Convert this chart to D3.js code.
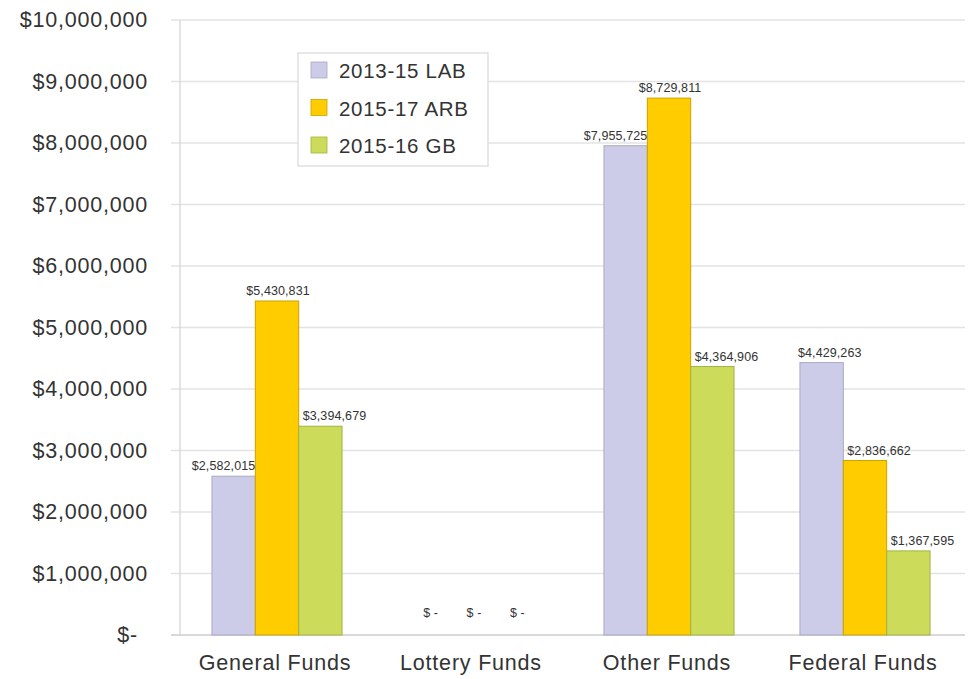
<!DOCTYPE html>
<html>
<head>
<meta charset="utf-8">
<script src="https://cdn.jsdelivr.net/npm/d3@7"></script>
<style>
body { margin:0; background:#fff; }
svg text { font-family: "Liberation Sans", Arial, sans-serif; }
</style>
</head>
<body>
<svg id="chart" width="979" height="679"></svg>
<script>
const categories = ["General Funds", "Lottery Funds", "Other Funds", "Federal Funds"];
const seriesNames = ["2013-15 LAB", "2015-17 ARB", "2015-16 GB"];
const lab2013 = [2582015, 0, 7955725, 4429263];
const arb2015 = [5430831, 0, 8729811, 2836662];
const gb2015 = [3394679, 0, 4364906, 1367595];
const yTicks = [0, 1000000, 2000000, 3000000, 4000000, 5000000, 6000000, 7000000, 8000000, 9000000, 10000000];
const yTickLabels = ["$-", "$1,000,000", "$2,000,000", "$3,000,000", "$4,000,000", "$5,000,000", "$6,000,000", "$7,000,000", "$8,000,000", "$9,000,000", "$10,000,000"];

(function () {
const seriesValues = [lab2013, arb2015, gb2015];
const colors = ["#cccce8", "#ffcc00", "#ccdc5a"];
const strokes = ["#a9a9c4", "#c9a200", "#a3b245"];

const svg = d3.select("#chart");
const mLeft = 179, mRight = 963, mTop = 20, mBottom = 635;

const x = d3.scaleBand().domain(categories).range([mLeft, mRight]).paddingInner(0).paddingOuter(0);
const xs = d3.scaleBand().domain(d3.range(seriesNames.length)).range([0, x.bandwidth()]).paddingOuter(0.76).paddingInner(0);
const y = d3.scaleLinear().domain([0, 10000000]).range([mBottom, mTop]);

// gridlines
svg.append("g").selectAll("line").data(yTicks).join("line")
  .attr("x1", mLeft - 8).attr("x2", mRight + 2)
  .attr("y1", d => y(d)).attr("y2", d => y(d))
  .attr("stroke", d => d === 0 ? "#d9d9d9" : "#e3e3e3")
  .attr("stroke-width", d => d === 0 ? 2 : 1.3);

// y axis line
svg.append("line").attr("x1", mLeft + 1).attr("x2", mLeft + 1).attr("y1", mTop).attr("y2", mBottom)
  .attr("stroke", "#d6d6d6").attr("stroke-width", 1.3);

// y tick labels
svg.append("g").selectAll("text").data(yTicks).join("text")
  .attr("x", d => d === 0 ? 138 : 148)
  .attr("y", d => y(d) + 7)
  .attr("text-anchor", "end")
  .attr("font-size", 21.5)
  .attr("letter-spacing", 0.8)
  .attr("fill", "#333")
  .text((d, i) => yTickLabels[i]);

// x category labels
svg.append("g").selectAll("text").data(categories).join("text")
  .attr("x", d => x(d) + x.bandwidth() / 2 - 2)
  .attr("y", 670)
  .attr("text-anchor", "middle")
  .attr("font-size", 21.5)
  .attr("letter-spacing", 0.8)
  .attr("fill", "#333")
  .text(d => d);

// bars
const fmt = d3.format(",");
const flat = [];
categories.forEach((c, ci) => {
  seriesValues.forEach((vals, si) => {
    flat.push({ c, ci, si, v: vals[ci] });
  });
});

svg.append("g").selectAll("rect").data(flat.filter(d => d.v > 0)).join("rect")
  .attr("x", d => x(d.c) + xs(d.si))
  .attr("width", xs.bandwidth())
  .attr("y", d => y(d.v))
  .attr("height", d => y(0) - y(d.v))
  .attr("fill", d => colors[d.si])
  .attr("stroke", d => strokes[d.si])
  .attr("stroke-width", 1);

// data labels
function anchorFor(d) {
  if (d.v === 0) return "middle";
  if (d.si === 0) return d.ci === 3 ? "start" : "end";
  if (d.si === 1) return d.ci === 3 ? "start" : "middle";
  return "start";
}
function xFor(d) {
  const bx = x(d.c) + xs(d.si), bw = xs.bandwidth();
  const a = anchorFor(d);
  if (a === "end") return bx + bw;
  if (a === "middle") return bx + bw / 2 + 1;
  return bx + (d.si === 0 ? -2 : 4);
}
svg.append("g").selectAll("text").data(flat).join("text")
  .attr("x", d => xFor(d))
  .attr("y", d => d.v === 0 ? 617 : y(d.v) - 6)
  .attr("text-anchor", d => anchorFor(d))
  .attr("font-size", 12.5)
  .attr("letter-spacing", 0.1)
  .attr("fill", "#333")
  .text(d => d.v === 0 ? "$ -" : "$" + fmt(d.v));

// legend
const lg = svg.append("g").attr("transform", "translate(298,53)");
lg.append("rect").attr("width", 190).attr("height", 113).attr("fill", "#fff")
  .attr("stroke", "#dcdcdc").attr("stroke-width", 1.3);
const items = lg.selectAll("g").data(seriesNames).join("g")
  .attr("transform", (d, i) => `translate(13,${17 + i * 37.5})`);
items.append("rect").attr("x", 0).attr("y", -8).attr("width", 16).attr("height", 16)
  .attr("fill", (d, i) => colors[i]).attr("stroke", (d, i) => strokes[i]).attr("stroke-width", 0.8);
items.append("text").attr("x", 28).attr("y", 8).attr("font-size", 20.5).attr("letter-spacing", 0.7).attr("fill", "#333").text(d => d);
})();
</script>
</body>
</html>
